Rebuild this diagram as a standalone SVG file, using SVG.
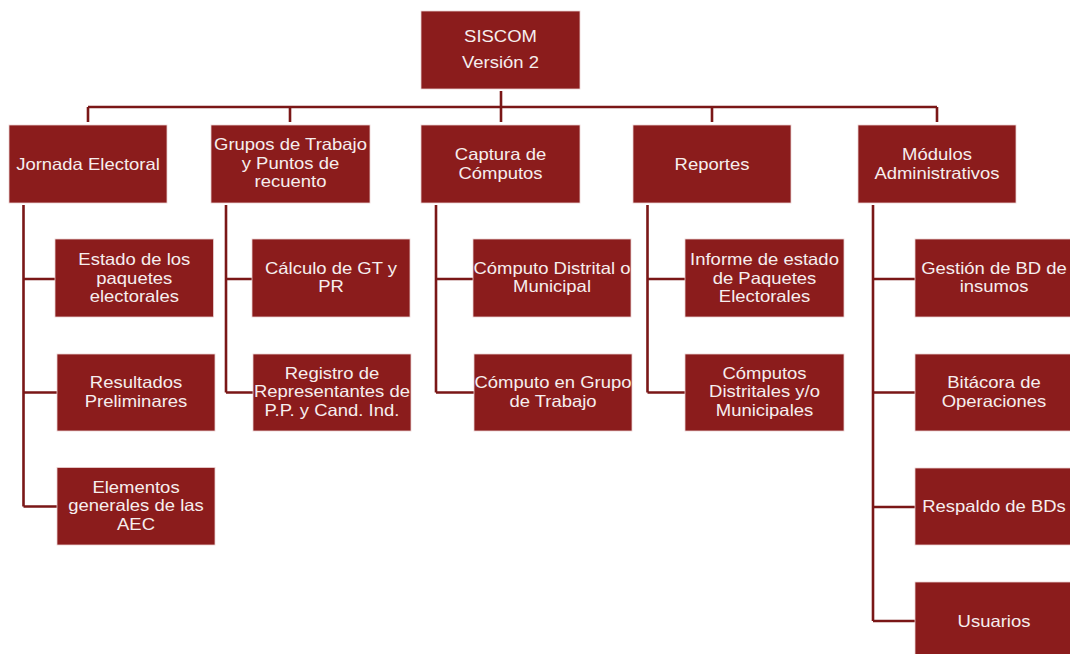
<svg xmlns="http://www.w3.org/2000/svg" width="1070" height="654" viewBox="0 0 1070 654">
<style>
.box{fill:#8b1c1c;stroke:#ead2d2;stroke-width:0.8}
.t{font-family:"Liberation Sans",Arial,sans-serif;font-size:16.5px;fill:#f6eeee;text-anchor:middle}
.ln{fill:none;stroke:#7a1717;stroke-width:2.6}
</style>
<rect width="1070" height="654" fill="#ffffff"/>
<g id="connectors">
<path class="ln" d="M501 91V122M88 107H937M88 107V122M290 107V122M712 107V122M937 107V122"/>
<path class="ln" d="M23.5 205V506.5M23.5 279H55M23.5 392.5H57M23.5 506.5H57"/>
<path class="ln" d="M226 205V392.5M226 279H252M226 392.5H253"/>
<path class="ln" d="M436 205V392.5M436 279H473M436 392.5H474"/>
<path class="ln" d="M647.5 205V392.5M647.5 279H685M647.5 392.5H685"/>
<path class="ln" d="M873 205V621M873 279H915M873 392.5H915M873 507H915M873 621H915"/>
</g>
<g id="siscom"><rect class="box" x="421" y="11" width="159" height="78"/><g transform="translate(500.5 0) scale(1.12 1)"><text class="t" x="0" y="42">SISCOM</text><text class="t" x="0" y="68.5">Versión 2</text></g></g>
<g id="jornada"><rect class="box" x="9" y="125" width="158" height="78"/><g transform="translate(88 0) scale(1.12 1)"><text class="t" x="0" y="170">Jornada Electoral</text></g></g>
<g id="grupos"><rect class="box" x="211" y="125" width="159" height="78"/><g transform="translate(290.5 0) scale(1.12 1)"><text class="t" x="0" y="150.5">Grupos de Trabajo</text><text class="t" x="0" y="169">y Puntos de</text><text class="t" x="0" y="187.5">recuento</text></g></g>
<g id="captura"><rect class="box" x="421" y="125" width="159" height="78"/><g transform="translate(500.5 0) scale(1.12 1)"><text class="t" x="0" y="160.5">Captura de</text><text class="t" x="0" y="179">Cómputos</text></g></g>
<g id="reportes"><rect class="box" x="633" y="125" width="158" height="78"/><g transform="translate(712 0) scale(1.12 1)"><text class="t" x="0" y="170">Reportes</text></g></g>
<g id="modulos"><rect class="box" x="858" y="125" width="158" height="78"/><g transform="translate(937 0) scale(1.12 1)"><text class="t" x="0" y="160.5">Módulos</text><text class="t" x="0" y="179">Administrativos</text></g></g>
<g id="estado"><rect class="box" x="55" y="239" width="158.5" height="78"/><g transform="translate(134.3 0) scale(1.12 1)"><text class="t" x="0" y="265.3">Estado de los</text><text class="t" x="0" y="283.8">paquetes</text><text class="t" x="0" y="302.3">electorales</text></g></g>
<g id="resultados"><rect class="box" x="57" y="354" width="158" height="77"/><g transform="translate(136 0) scale(1.12 1)"><text class="t" x="0" y="388.5">Resultados</text><text class="t" x="0" y="407">Preliminares</text></g></g>
<g id="elementos"><rect class="box" x="57" y="467.5" width="158" height="77.5"/><g transform="translate(136 0) scale(1.12 1)"><text class="t" x="0" y="493">Elementos</text><text class="t" x="0" y="511.5">generales de las</text><text class="t" x="0" y="530">AEC</text></g></g>
<g id="calculo"><rect class="box" x="252" y="239" width="158" height="78"/><g transform="translate(331 0) scale(1.12 1)"><text class="t" x="0" y="274">Cálculo de GT y</text><text class="t" x="0" y="292.5">PR</text></g></g>
<g id="registro"><rect class="box" x="253" y="354" width="158" height="77"/><g transform="translate(332 0) scale(1.12 1)"><text class="t" x="0" y="379">Registro de</text><text class="t" x="0" y="397.5">Representantes de</text><text class="t" x="0" y="416">P.P. y Cand. Ind.</text></g></g>
<g id="computo-distrital"><rect class="box" x="473" y="239" width="158" height="78"/><g transform="translate(552 0) scale(1.12 1)"><text class="t" x="0" y="274">Cómputo Distrital o</text><text class="t" x="0" y="292.5">Municipal</text></g></g>
<g id="computo-grupo"><rect class="box" x="474" y="354" width="158" height="77"/><g transform="translate(553 0) scale(1.12 1)"><text class="t" x="0" y="388.5">Cómputo en Grupo</text><text class="t" x="0" y="407">de Trabajo</text></g></g>
<g id="informe"><rect class="box" x="685" y="239" width="159" height="78"/><g transform="translate(764.5 0) scale(1.12 1)"><text class="t" x="0" y="265.3">Informe de estado</text><text class="t" x="0" y="283.8">de Paquetes</text><text class="t" x="0" y="302.3">Electorales</text></g></g>
<g id="computos-distritales"><rect class="box" x="685" y="354" width="159" height="77"/><g transform="translate(764.5 0) scale(1.12 1)"><text class="t" x="0" y="379">Cómputos</text><text class="t" x="0" y="397.5">Distritales y/o</text><text class="t" x="0" y="416">Municipales</text></g></g>
<g id="gestion"><rect class="box" x="915" y="239" width="158" height="78"/><g transform="translate(994 0) scale(1.12 1)"><text class="t" x="0" y="274">Gestión de BD de</text><text class="t" x="0" y="292.5">insumos</text></g></g>
<g id="bitacora"><rect class="box" x="915" y="354" width="158" height="77"/><g transform="translate(994 0) scale(1.12 1)"><text class="t" x="0" y="388.5">Bitácora de</text><text class="t" x="0" y="407">Operaciones</text></g></g>
<g id="respaldo"><rect class="box" x="915" y="468" width="158" height="77"/><g transform="translate(994 0) scale(1.12 1)"><text class="t" x="0" y="512.5">Respaldo de BDs</text></g></g>
<g id="usuarios"><rect class="box" x="915" y="582" width="158" height="78"/><g transform="translate(994 0) scale(1.12 1)"><text class="t" x="0" y="627">Usuarios</text></g></g>
</svg>
